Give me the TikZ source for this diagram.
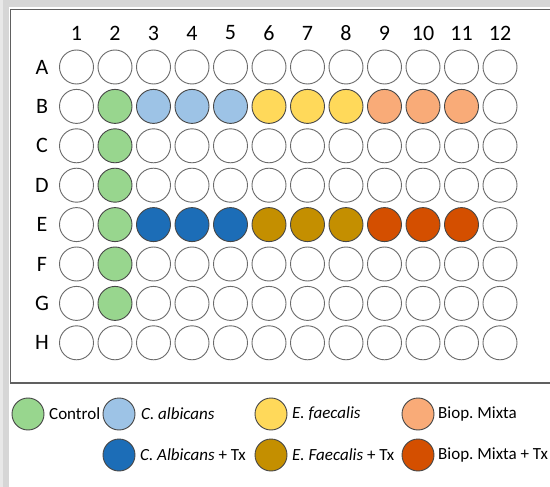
\documentclass[tikz,border=0pt]{standalone}
\usepackage{fontspec}
\setmainfont{Carlito}
\frenchspacing
\definecolor{cgreen}{HTML}{98D68E}
\definecolor{clblue}{HTML}{9DC3E6}
\definecolor{cyellow}{HTML}{FFD95A}
\definecolor{corange}{HTML}{F9AB78}
\definecolor{cdblue}{HTML}{1C6DB7}
\definecolor{cgold}{HTML}{C48F00}
\definecolor{cdorange}{HTML}{D44F00}
\definecolor{wellline}{HTML}{6A6A6A}
\definecolor{colline}{HTML}{474747}
\begin{document}
\frenchspacing
\begin{tikzpicture}[x=1pt,y=-1pt,
  well/.style={circle,draw=wellline,line width=0.9pt,minimum size=34pt,inner sep=0pt,fill=white},
  fgreen/.style={fill=cgreen,draw=colline},
  flblue/.style={fill=clblue,draw=colline},
  fyellow/.style={fill=cyellow,draw=colline},
  forange/.style={fill=corange,draw=colline},
  fdblue/.style={fill=cdblue,draw=colline},
  fgold/.style={fill=cgold,draw=colline},
  fdorange/.style={fill=cdorange,draw=colline},
  wcB2/.style=fgreen, wcC2/.style=fgreen, wcD2/.style=fgreen, wcE2/.style=fgreen,
  wcF2/.style=fgreen, wcG2/.style=fgreen,
  wcB3/.style=flblue, wcB4/.style=flblue, wcB5/.style=flblue,
  wcB6/.style=fyellow, wcB7/.style=fyellow, wcB8/.style=fyellow,
  wcB9/.style=forange, wcB10/.style=forange, wcB11/.style=forange,
  wcE3/.style=fdblue, wcE4/.style=fdblue, wcE5/.style=fdblue,
  wcE6/.style=fgold, wcE7/.style=fgold, wcE8/.style=fgold,
  wcE9/.style=fdorange, wcE10/.style=fdorange, wcE11/.style=fdorange,
  lab/.style={font=\fontsize{22}{26}\selectfont,inner sep=0pt},
  leg/.style={circle,draw=colline,line width=0.9pt,minimum size=32pt,inner sep=0pt},
  legtxt/.style={anchor=west,inner sep=0pt,font=\fontsize{17}{20}\selectfont}]
\useasboundingbox (0,0) rectangle (550,487);
\fill[white] (0,0) rectangle (550,487);
% shadow bands
\fill[gray!32] (0,0) rectangle (9,487);
\fill[gray!32] (0,0) rectangle (550,7.5);
\fill[gray!18] (0,0) rectangle (3,487);
% plate frame
\draw[gray!75!black,line width=1.1pt] (550,9.5) -- (10.5,9.5) -- (10.5,383) -- (550,383);
% column labels
\foreach \c in {1,...,12}
  \node[lab] (col\c) at ({76.5+(\c-1)*38.5},33) {\c};
% row labels and wells
\foreach \r [count=\i] in {A,B,C,D,E,F,G,H} {
  \node[lab] (row\r) at (42,{67+(\i-1)*39.4}) {\r};
  \foreach \c in {1,...,12}
    \node[well,wc\r\c/.try] (w\r\c) at ({76.5+(\c-1)*38.5},{67+(\i-1)*39.4}) {};
}
% legend
\node[leg,fill=cgreen] (lg1) at (28,414) {};
\node[legtxt] (lt1) at (49,414) {Control};
\node[leg,fill=clblue] (lg2) at (119,414) {};
\node[legtxt] (lt2) at (141,414) {\itshape C. albicans};
\node[leg,fill=cyellow] (lg3) at (271,414) {};
\node[legtxt] (lt3) at (292,414) {\itshape E. faecalis};
\node[leg,fill=corange] (lg4) at (418,414) {};
\node[legtxt] (lt4) at (438,414) {Biop. Mixta};
\node[leg,fill=cdblue] (lg5) at (119,455) {};
\node[legtxt] (lt5) at (140,455) {\itshape C. Albicans\upshape{} + Tx};
\node[leg,fill=cgold] (lg6) at (271,455) {};
\node[legtxt] (lt6) at (292,455) {\itshape E. Faecalis\upshape{} + Tx};
\node[leg,fill=cdorange] (lg7) at (418,455) {};
\node[legtxt] (lt7) at (438,455) {Biop. Mixta + Tx};
\end{tikzpicture}
\end{document}
